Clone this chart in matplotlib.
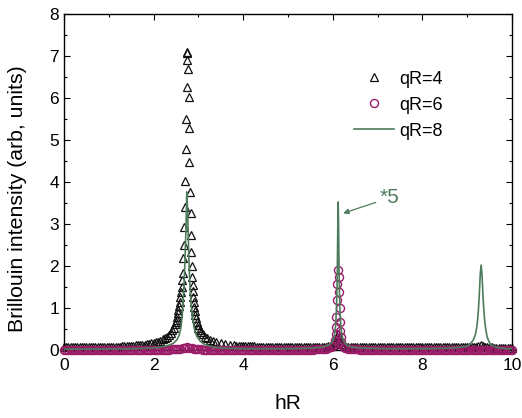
import matplotlib
matplotlib.use("Agg")
import matplotlib.pyplot as plt
from matplotlib.ticker import MultipleLocator

plt.rcParams['font.family'] = ['Liberation Sans', 'DejaVu Sans']

# ---------------- data ----------------
# qR=4 (open triangles)
tri_x = [0.00, 0.05, 0.10, 0.15, 0.20, 0.25, 0.30, 0.35, 0.40, 0.45,
         0.50, 0.55, 0.60, 0.65, 0.70, 0.75, 0.80, 0.85, 0.90, 0.95,
         1.00, 1.05, 1.10, 1.15, 1.20, 1.25, 1.30, 1.35, 1.40, 1.45,
         1.50, 1.55, 1.60, 1.65,
         1.70, 1.75, 1.80, 1.85, 1.90, 1.95, 2.00, 2.05, 2.10, 2.15, 2.20, 2.25, 2.30, 2.34,
         2.38, 2.42, 2.45, 2.48, 2.50,
         2.515, 2.525, 2.535, 2.55, 2.565, 2.58, 2.595, 2.61, 2.625, 2.64, 2.655,
         2.665, 2.675, 2.685, 2.695, 2.705, 2.72, 2.73, 2.735, 2.74, 2.745,
         2.755, 2.77, 2.78, 2.79, 2.80, 2.815, 2.825, 2.835, 2.845, 2.855,
         2.865, 2.87, 2.88, 2.89, 2.90, 2.91, 2.92, 2.93, 2.945, 2.96, 2.98, 3.00, 3.03, 3.06,
         3.10, 3.15, 3.20, 3.26, 3.33, 3.40, 3.50, 3.60, 3.70, 3.80,
         3.85, 3.90, 3.95, 4.00, 4.05, 4.10, 4.15, 4.20, 4.25,
         4.30, 4.35, 4.40, 4.45, 4.50, 4.55, 4.60, 4.65, 4.70, 4.75,
         4.80, 4.85, 4.90, 4.95, 5.00, 5.05, 5.10, 5.15, 5.20, 5.25,
         5.30, 5.35, 5.40, 5.45, 5.50, 5.55, 5.60, 5.65,
         5.70, 5.75, 5.80, 5.85,
         5.90, 5.95, 6.00, 6.04, 6.07, 6.10, 6.12, 6.14, 6.17, 6.20, 6.25, 6.30,
         6.35, 6.40, 6.45, 6.50,
         6.55, 6.60, 6.65, 6.70, 6.75, 6.80, 6.85, 6.90, 6.95, 7.00,
         7.05, 7.10, 7.15, 7.20, 7.25, 7.30, 7.35, 7.40, 7.45, 7.50,
         7.55, 7.60, 7.65, 7.70, 7.75, 7.80, 7.85, 7.90, 7.95, 8.00,
         8.05, 8.10, 8.15, 8.20, 8.25, 8.30, 8.35, 8.40, 8.45, 8.50,
         8.55, 8.60, 8.65, 8.70, 8.75, 8.80, 8.85, 8.90, 8.95, 9.00,
         9.05, 9.10, 9.15,
         9.20, 9.25, 9.30, 9.35, 9.40,
         9.45, 9.50, 9.55, 9.60, 9.65, 9.70, 9.75, 9.80, 9.85, 9.90, 9.95, 10.00]
tri_y = [0.06, 0.06, 0.06, 0.06, 0.06, 0.06, 0.06, 0.06, 0.06, 0.06,
         0.07, 0.07, 0.07, 0.07, 0.07, 0.07, 0.07, 0.07, 0.07, 0.07,
         0.08, 0.08, 0.08, 0.08, 0.08, 0.08, 0.09, 0.09, 0.09, 0.09,
         0.10, 0.10, 0.11, 0.11,
         0.12, 0.125, 0.13, 0.14, 0.15, 0.16, 0.17, 0.18, 0.20, 0.22, 0.25, 0.28, 0.32, 0.36,
         0.41, 0.47, 0.53, 0.61, 0.66,
         0.71, 0.79, 0.87, 0.95, 1.05, 1.15, 1.27, 1.38, 1.50, 1.66, 1.82,
         2.19, 2.49, 2.93, 3.40, 4.02, 4.79, 5.50, 6.25, 6.89, 7.09,
         7.05, 6.69, 6.01, 5.27, 4.47, 3.76, 3.25, 2.73, 2.33, 2.00,
         1.74, 1.55, 1.40, 1.26, 1.13, 1.02, 0.92, 0.83, 0.75, 0.67, 0.60, 0.53, 0.47, 0.42,
         0.37, 0.32, 0.28, 0.24, 0.21, 0.18, 0.16, 0.14, 0.12, 0.11,
         0.105, 0.10, 0.10, 0.09, 0.09, 0.09, 0.09, 0.09, 0.09,
         0.08, 0.08, 0.08, 0.08, 0.08, 0.08, 0.08, 0.08, 0.08, 0.08,
         0.07, 0.07, 0.07, 0.07, 0.07, 0.07, 0.07, 0.07, 0.07, 0.07,
         0.07, 0.07, 0.07, 0.07, 0.07, 0.07, 0.07, 0.07,
         0.07, 0.075, 0.08, 0.08,
         0.085, 0.09, 0.11, 0.14, 0.20, 0.30, 0.38, 0.30, 0.20, 0.14, 0.10, 0.08,
         0.075, 0.07, 0.07, 0.07,
         0.06, 0.06, 0.06, 0.06, 0.06, 0.06, 0.06, 0.06, 0.06, 0.06,
         0.06, 0.06, 0.06, 0.06, 0.06, 0.06, 0.06, 0.06, 0.06, 0.06,
         0.06, 0.06, 0.06, 0.06, 0.06, 0.06, 0.06, 0.06, 0.06, 0.06,
         0.06, 0.06, 0.06, 0.06, 0.06, 0.06, 0.06, 0.06, 0.06, 0.06,
         0.06, 0.06, 0.06, 0.06, 0.06, 0.06, 0.06, 0.06, 0.06, 0.06,
         0.065, 0.07, 0.075,
         0.08, 0.09, 0.11, 0.09, 0.075,
         0.065, 0.06, 0.06, 0.055, 0.055, 0.05, 0.05, 0.05, 0.05, 0.05, 0.05, 0.05]

# qR=6 (open circles)
cir_x = [0.00, 0.05, 0.10, 0.15, 0.20, 0.25, 0.30, 0.35, 0.40, 0.45,
         0.50, 0.55, 0.60, 0.65, 0.70, 0.75, 0.80, 0.85, 0.90, 0.95,
         1.00, 1.05, 1.10, 1.15, 1.20, 1.25, 1.30, 1.35, 1.40, 1.45,
         1.50, 1.55, 1.60, 1.65, 1.70, 1.75, 1.80, 1.85, 1.90, 1.95,
         2.00, 2.05, 2.10, 2.15, 2.20, 2.25, 2.30, 2.35,
         2.40, 2.45, 2.50, 2.55, 2.60, 2.65, 2.70, 2.75, 2.80, 2.85, 2.90, 2.95, 3.00, 3.05,
         3.10, 3.15, 3.20, 3.25, 3.30, 3.35, 3.40, 3.45, 3.50, 3.55,
         3.60, 3.65, 3.70, 3.75, 3.80, 3.85, 3.90, 3.95, 4.00, 4.05,
         4.10, 4.15, 4.20, 4.25, 4.30, 4.35, 4.40, 4.45, 4.50, 4.55,
         4.60, 4.65, 4.70, 4.75, 4.80, 4.85, 4.90, 4.95, 5.00, 5.05,
         5.10, 5.15, 5.20, 5.25, 5.30, 5.35, 5.40, 5.45, 5.50, 5.55,
         5.60, 5.65, 5.70, 5.75, 5.80, 5.85, 5.90,
         5.96, 6.00, 6.03, 6.05, 6.06, 6.07, 6.08, 6.085, 6.09, 6.11,
         6.14, 6.145, 6.15, 6.155, 6.165, 6.175, 6.19, 6.21, 6.24, 6.28,
         6.35, 6.40, 6.45, 6.50, 6.55,
         6.60, 6.65, 6.70, 6.75, 6.80, 6.85, 6.90, 6.95, 7.00, 7.05,
         7.10, 7.15, 7.20, 7.25, 7.30, 7.35, 7.40, 7.45, 7.50, 7.55,
         7.60, 7.65, 7.70, 7.75, 7.80, 7.85, 7.90, 7.95, 8.00, 8.05,
         8.10, 8.15, 8.20, 8.25, 8.30, 8.35, 8.40, 8.45, 8.50, 8.55,
         8.60, 8.65, 8.70, 8.75, 8.80, 8.85, 8.90, 8.95, 9.00, 9.05,
         9.10, 9.15, 9.20, 9.25, 9.30, 9.35, 9.40, 9.45, 9.50, 9.55,
         9.60, 9.65, 9.70, 9.75, 9.80, 9.85, 9.90, 9.95, 10.00]
cir_y = [0.01, 0.01, 0.01, 0.01, 0.01, 0.01, 0.01, 0.01, 0.01, 0.01,
         0.01, 0.01, 0.01, 0.01, 0.01, 0.01, 0.01, 0.01, 0.01, 0.01,
         0.01, 0.01, 0.01, 0.01, 0.01, 0.01, 0.01, 0.01, 0.01, 0.01,
         0.01, 0.01, 0.01, 0.01, 0.01, 0.01, 0.01, 0.01, 0.01, 0.01,
         0.01, 0.01, 0.01, 0.01, 0.01, 0.01, 0.01, 0.01,
         0.015, 0.02, 0.02, 0.025, 0.03, 0.04, 0.05, 0.06, 0.05, 0.04, 0.03, 0.025, 0.02, 0.015,
         0.01, 0.01, 0.01, 0.01, 0.01, 0.01, 0.01, 0.01, 0.01, 0.01,
         0.01, 0.01, 0.01, 0.01, 0.01, 0.01, 0.01, 0.01, 0.01, 0.01,
         0.01, 0.01, 0.01, 0.01, 0.01, 0.01, 0.01, 0.01, 0.01, 0.01,
         0.01, 0.01, 0.01, 0.01, 0.01, 0.01, 0.01, 0.01, 0.01, 0.01,
         0.01, 0.01, 0.01, 0.01, 0.01, 0.01, 0.01, 0.01, 0.01, 0.01,
         0.015, 0.02, 0.02, 0.025, 0.03, 0.035, 0.04,
         0.06, 0.09, 0.15, 0.24, 0.37, 0.55, 0.79, 1.19, 1.58, 1.90,
         1.74, 1.38, 0.99, 0.67, 0.45, 0.30, 0.19, 0.12, 0.07, 0.05,
         0.03, 0.025, 0.02, 0.02, 0.015,
         0.01, 0.01, 0.01, 0.01, 0.01, 0.01, 0.01, 0.01, 0.01, 0.01,
         0.01, 0.01, 0.01, 0.01, 0.01, 0.01, 0.01, 0.01, 0.01, 0.01,
         0.01, 0.01, 0.01, 0.01, 0.01, 0.01, 0.01, 0.01, 0.01, 0.01,
         0.01, 0.01, 0.01, 0.01, 0.01, 0.01, 0.01, 0.01, 0.01, 0.01,
         0.01, 0.01, 0.01, 0.01, 0.01, 0.01, 0.01, 0.01, 0.01, 0.01,
         0.01, 0.01, 0.01, 0.01, 0.01, 0.01, 0.01, 0.01, 0.01, 0.01,
         0.01, 0.01, 0.01, 0.01, 0.01, 0.01, 0.01, 0.01, 0.01]

# qR=8 (solid line)
ln_x = [0.0, 0.5, 1.0, 1.5, 1.8, 2.0, 2.1, 2.2, 2.3, 2.4, 2.44, 2.52, 2.57, 2.61, 2.64, 2.66,
        2.68, 2.70, 2.72, 2.73, 2.74, 2.75, 2.76, 2.78, 2.80, 2.82, 2.84, 2.87, 2.91, 2.96,
        3.04, 3.14, 3.34, 3.5, 3.7, 4.0, 4.5, 5.0, 5.4, 5.6, 5.7, 5.8, 5.9, 5.95, 5.99, 6.02,
        6.04, 6.06, 6.08, 6.09, 6.10, 6.11, 6.12, 6.13, 6.14, 6.15, 6.16, 6.18, 6.20, 6.22,
        6.25, 6.29, 6.34, 6.42, 6.6, 6.8, 7.2, 8.0, 8.5, 8.7, 8.9, 9.0, 9.09, 9.14, 9.18,
        9.21, 9.23, 9.25, 9.27, 9.29, 9.31, 9.33, 9.35, 9.37, 9.39, 9.41, 9.44, 9.48, 9.53,
        9.61, 9.71, 9.9, 10.0]
ln_y = [0.02, 0.02, 0.025, 0.03, 0.04, 0.05, 0.06, 0.08, 0.10, 0.14, 0.16, 0.24, 0.35, 0.53, 0.84, 1.18,
        1.57, 2.12, 2.79, 3.25, 3.76, 3.53, 3.25, 2.44, 1.80, 1.37, 1.05, 0.75, 0.50, 0.33,
        0.21, 0.13, 0.07, 0.05, 0.04, 0.03, 0.03, 0.03, 0.04, 0.05, 0.06, 0.08, 0.12, 0.15, 0.20, 0.28,
        0.38, 0.55, 0.95, 1.30, 1.85, 2.82, 3.52, 2.82, 1.85, 1.30, 0.95, 0.55, 0.38, 0.28,
        0.20, 0.14, 0.10, 0.07, 0.05, 0.04, 0.03, 0.03, 0.04, 0.05, 0.07, 0.10, 0.17, 0.25, 0.36,
        0.52, 0.70, 0.96, 1.33, 1.79, 2.02, 1.79, 1.33, 0.96, 0.70, 0.52, 0.33, 0.21, 0.13,
        0.08, 0.05, 0.03, 0.03]

labels = ['qR=4', 'qR=6', 'qR=8']
x_ticks = [0, 2, 4, 6, 8, 10]
y_ticks = [0, 1, 2, 3, 4, 5, 6, 7, 8]

black = '#111111'
magenta = '#9a1c68'
green = '#4d7c5c'

# ---------------- figure ----------------
fig = plt.figure(figsize=(5.22, 4.18), dpi=100)
ax = fig.add_axes([0.1226, 0.1627, 0.8583, 0.8050])

ax.plot(tri_x, tri_y, linestyle='none', marker='^', markersize=5.8,
        markerfacecolor='none', markeredgecolor=black, markeredgewidth=0.9,
        label=labels[0], clip_on=False, zorder=2)
ax.plot(cir_x, cir_y, linestyle='none', marker='o', markersize=5.8,
        markerfacecolor='none', markeredgecolor=magenta, markeredgewidth=1.0,
        label=labels[1], clip_on=False, zorder=3)
ax.plot(ln_x, ln_y, color=green, linewidth=1.2, label=labels[2], zorder=4)

ax.annotate('*5', xy=(6.23, 3.25), xytext=(7.05, 3.62), color=green, fontsize=15,
            va='center', ha='left',
            arrowprops=dict(arrowstyle='-|>', color=green, lw=0.9,
                            mutation_scale=8, shrinkA=1, shrinkB=0))

ax.set_xlim(0, 10)
ax.set_ylim(0, 8)
ax.set_xticks(x_ticks)
ax.set_yticks(y_ticks)
ax.xaxis.set_minor_locator(MultipleLocator(1))
ax.yaxis.set_minor_locator(MultipleLocator(0.5))
ax.tick_params(which='both', direction='in', top=True, right=True, labelsize=12.5,
               colors='black', width=0.8)
ax.tick_params(which='major', length=4)
ax.tick_params(which='minor', length=2.5)
ax.tick_params(axis='x', pad=6)
for s in ax.spines.values():
    s.set_linewidth(1.0)

ax.set_xlabel('hR', fontsize=15, labelpad=15)
ax.set_ylabel('Brillouin intensity (arb, units)', fontsize=15.3)
ax.yaxis.set_label_coords(-0.083, 0.449)

leg = ax.legend(loc='upper left', bbox_to_anchor=(0.648, 0.83), frameon=False,
                fontsize=13, numpoints=1, handlelength=2.2, handletextpad=0.3,
                labelspacing=0.5, borderaxespad=0.0, borderpad=0.0)

fig.savefig('out.png', dpi=100)
